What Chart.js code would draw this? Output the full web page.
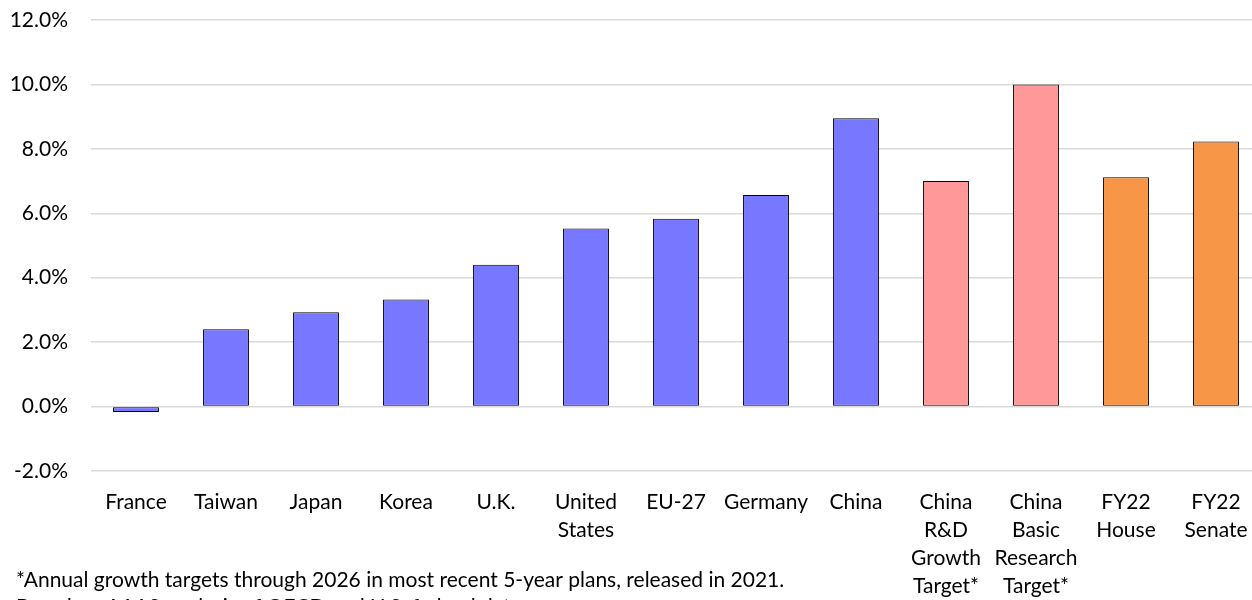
<!DOCTYPE html>
<html>
<head>
<meta charset="utf-8">
<script src="https://cdn.jsdelivr.net/npm/chart.js@4/dist/chart.umd.min.js"></script>
<style>
  html, body { margin: 0; padding: 0; background: #fff; }
  #wrap { position: relative; width: 1252px; height: 600px; overflow: hidden; }
</style>
</head>
<body>
<div id="wrap"><canvas id="c" width="1270" height="600"></canvas></div>
<script>
// categories (multi-line labels as in the original)
const categories = [
  'France', 'Taiwan', 'Japan', 'Korea', 'U.K.', ['United', 'States'], 'EU-27', 'Germany', 'China',
  ['China', 'R&D', 'Growth', 'Target*'], ['China', 'Basic', 'Research', 'Target*'],
  ['FY22', 'House'], ['FY22', 'Senate']
];
// annual growth, percent
const growth = [-0.17, 2.4, 2.93, 3.32, 4.4, 5.53, 5.83, 6.57, 8.95, 7.0, 10.0, 7.12, 8.23];
const groups = ['country', 'country', 'country', 'country', 'country', 'country', 'country', 'country', 'country',
  'target', 'target', 'budget', 'budget'];
const yTicks = [-2, 0, 2, 4, 6, 8, 10, 12];
const footnotes = [
  '*Annual growth targets through 2026 in most recent 5-year plans, released in 2021.',
  'Based on AAAS analysis of OECD and U.S. federal data.'
];

const groupColors = { country: '#7777FF', target: '#FF9999', budget: '#F79646' };
const FONT = "Lato, 'Open Sans', sans-serif";

const footnotePlugin = {
  id: 'footnote',
  afterDraw(chart) {
    const ctx = chart.ctx;
    ctx.save();
    ctx.fillStyle = '#000';
    ctx.font = `21px ${FONT}`;
    ctx.textBaseline = 'middle';
    ctx.textAlign = 'left';
    ctx.fillText(footnotes[0], 16, 580);
    ctx.fillText(footnotes[1], 16, 607);
    ctx.restore();
  }
};

const chart = new Chart(document.getElementById('c'), {
  type: 'bar',
  data: {
    labels: categories,
    datasets: [{
      data: growth,
      backgroundColor: groups.map(g => groupColors[g]),
      borderColor: '#000',
      borderWidth: 1,
      borderSkipped: false,
      barPercentage: 0.51,
      categoryPercentage: 1.0,
    }],
  },
  options: {
    responsive: false,
    animation: false,
    layout: { padding: { left: 0, right: 9, top: 20, bottom: 0 } },
    plugins: { legend: { display: false }, tooltip: { enabled: false } },
    scales: {
      x: {
        grid: { display: false },
        border: { display: false },
        afterFit: axis => { axis.height = 129; axis.paddingTop = 0; axis.paddingBottom = 0; },
        ticks: {
          color: '#000',
          font: { family: FONT, size: 21, lineHeight: 1.333 },
          maxRotation: 0,
          autoSkip: false,
          padding: 9,
        },
      },
      y: {
        min: yTicks[0],
        max: yTicks[yTicks.length - 1],
        afterBuildTicks: axis => { axis.ticks = yTicks.map(v => ({ value: v })); },
        afterFit: axis => { axis.width = 91; axis.paddingTop = 0; axis.paddingBottom = 0; },
        grid: { color: '#D9D9D9', lineWidth: 1.5, drawTicks: false },
        border: { display: false },
        ticks: {
          color: '#000',
          font: { family: FONT, size: 21 },
          padding: 23,
          callback: v => v.toFixed(1) + '%',
        },
      },
    },
  },
  plugins: [footnotePlugin],
});
</script>
</body>
</html>
